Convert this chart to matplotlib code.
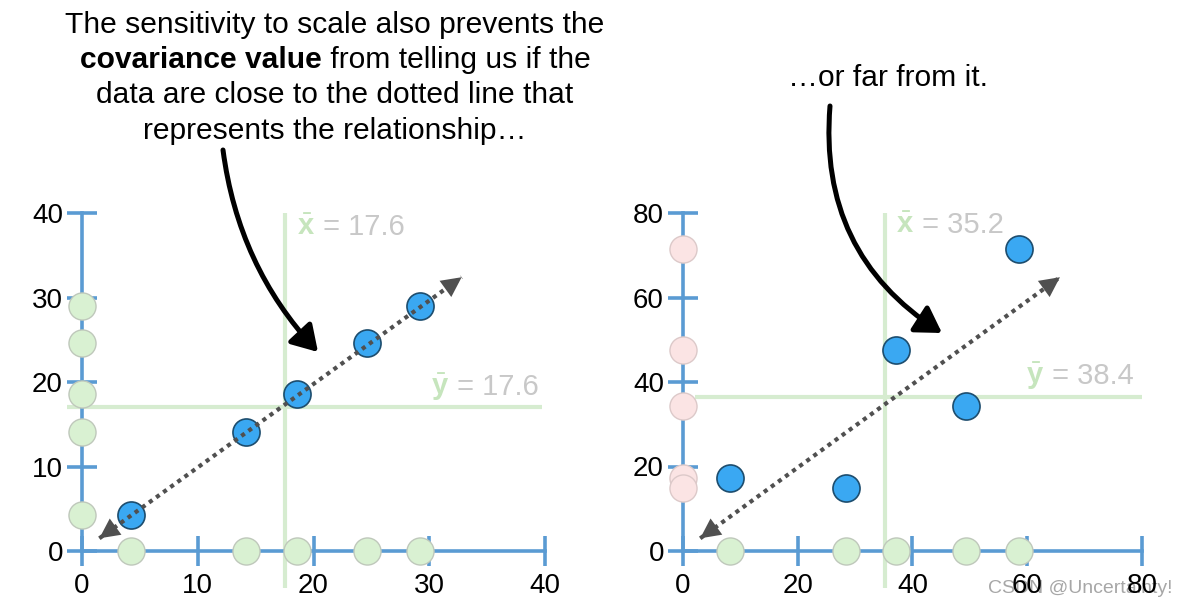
import matplotlib
matplotlib.use('Agg')
import matplotlib.pyplot as plt
from matplotlib.patches import FancyArrowPatch

plt.rcParams['font.family'] = ['Liberation Sans', 'DejaVu Sans']
plt.rcParams['mathtext.fontset'] = 'custom'
plt.rcParams['mathtext.rm'] = 'Liberation Sans'
plt.rcParams['mathtext.bf'] = 'Liberation Sans:bold'
plt.rcParams['mathtext.it'] = 'Liberation Sans:italic'

# ---------------- data ----------------
left_x = [4.2, 14.2, 18.6, 24.6, 29.2]
left_y = [4.3, 14.1, 18.6, 24.6, 29.0]
left_xbar = 17.5
left_ybar = 17.0
left_xbar_text = "17.6"
left_ybar_text = "17.6"
left_ticks = [0, 10, 20, 30, 40]
left_trend_x = [1.5, 32.8]
left_trend_y = [1.5, 32.4]

right_x = [8.2, 28.4, 37.2, 49.3, 58.6]
right_y = [17.2, 15.0, 47.6, 34.4, 71.4]
right_xbar = 35.2
right_ybar = 36.5
right_xbar_text = "35.2"
right_ybar_text = "38.4"
right_ticks = [0, 20, 40, 60, 80]
right_trend_x = [3.0, 65.7]
right_trend_y = [3.0, 64.8]

header_lines = ["The sensitivity to scale also prevents the",
                ("covariance value", " from telling us if the"),
                "data are close to the dotted line that",
                "represents the relationship\u2026"]
right_header = "\u2026or far from it."
watermark = "CSDN @Uncertainty!"

# ---------------- style ----------------
W, H = 1184, 608
BLUE_AX = '#5a9bd3'
GREEN_LINE = '#d6ecd0'
GREEN_FACE = '#d9f1d2'
GREEN_EDGE = '#bfc8bb'
PINK_FACE = '#fbe4e4'
PINK_EDGE = '#dcc9c9'
BLUE_PT = '#3aa8f2'
BLUE_EDGE = '#1d4d6e'
DOT_GRAY = '#505050'
LABEL_GRAY = '#c8c8c8'
XBAR_GREEN = '#c6e5bd'

fig = plt.figure(figsize=(W / 100, H / 100), dpi=100)
fig.patch.set_facecolor('white')


def px_rect(l, t, r, b):
    return [l / W, 1 - b / H, (r - l) / W, (b - t) / H]


def fpos(x, y):
    return (x / W, 1 - y / H)


def make_panel(rect, xlim, ylim, ticks, xs, ys, side_face, side_edge,
               xbar, ybar, vline_span, hline_span, trend_x, trend_y):
    ax = fig.add_axes(rect)
    ax.set_xlim(*xlim)
    ax.set_ylim(*ylim)
    ax.patch.set_alpha(0)
    for s in ['top', 'right']:
        ax.spines[s].set_visible(False)
    for s in ['left', 'bottom']:
        ax.spines[s].set_position(('data', 0))
        ax.spines[s].set_color(BLUE_AX)
        ax.spines[s].set_linewidth(2.6)
        ax.spines[s].set_bounds(ticks[0], ticks[-1])
    ax.set_xticks(ticks)
    ax.set_yticks(ticks)
    ax.tick_params(direction='inout', length=21.5, width=2.6, color=BLUE_AX,
                   labelsize=20, labelcolor='black')
    ax.tick_params(axis='x', pad=5)
    ax.tick_params(axis='y', pad=3)
    # mean lines
    ax.plot([xbar, xbar], vline_span, color=GREEN_LINE, lw=3, zorder=1,
            clip_on=False, solid_capstyle='butt')
    ax.plot(hline_span, [ybar, ybar], color=GREEN_LINE, lw=3, zorder=1,
            clip_on=False, solid_capstyle='butt')
    # projections
    ms = 380
    ax.scatter(xs, [0] * len(xs), s=ms, facecolor=GREEN_FACE, edgecolor=GREEN_EDGE,
               linewidth=1.0, zorder=4, clip_on=False)
    ax.scatter([0] * len(ys), ys, s=ms, facecolor=side_face, edgecolor=side_edge,
               linewidth=1.0, zorder=4, clip_on=False)
    # data points
    ax.scatter(xs, ys, s=ms, facecolor=BLUE_PT, edgecolor=BLUE_EDGE,
               linewidth=1.2, zorder=5, clip_on=False)
    # dotted trend line with heads at both ends
    ax.plot(trend_x, trend_y, color=DOT_GRAY, lw=3.0, linestyle=(0, (1, 1.1)),
            dash_capstyle='butt', zorder=6, clip_on=False)
    dx = trend_x[1] - trend_x[0]
    dy = trend_y[1] - trend_y[0]
    for (tx, ty, sgn) in [(trend_x[1], trend_y[1], 1), (trend_x[0], trend_y[0], -1)]:
        ax.annotate('', xy=(tx, ty), xytext=(tx - sgn * dx * 0.05, ty - sgn * dy * 0.05),
                    arrowprops=dict(arrowstyle='-|>,head_length=0.9,head_width=0.45',
                                    mutation_scale=16, color=DOT_GRAY, lw=0,
                                    shrinkA=0, shrinkB=0),
                    zorder=7, annotation_clip=False)
    return ax


# left panel: data 0..40 -> px 82..545 ; y 0..40 -> px 551..213
lx = 463 / 40.0
ly = 338 / 40.0
axL = make_panel(px_rect(82 - 5 * lx, 213 - 6 * ly, 545 + 5 * lx, 551 + 6 * ly),
                 (-5, 45), (-6, 46), left_ticks, left_x, left_y,
                 GREEN_FACE, GREEN_EDGE, left_xbar, left_ybar,
                 [-4.4, 40], [-1.3, 39.7], left_trend_x, left_trend_y)

# right panel: data 0..80 -> px 683..1142 ; y 0..80 -> px 551..213
rx = 459 / 80.0
ry = 338 / 80.0
axR = make_panel(px_rect(683 - 6 * rx, 213 - 10 * ry, 1142 + 6 * rx, 551 + 10 * ry),
                 (-6, 86), (-10, 90), right_ticks, right_x, right_y,
                 PINK_FACE, PINK_EDGE, right_xbar, right_ybar,
                 [-8.8, 80], [2.1, 80], right_trend_x, right_trend_y)

fig.canvas.draw()
renderer = fig.canvas.get_renderer()


def text_pieces(x_px, y_px, pieces, size, ha='left', **kw):
    """pieces: list of (text, color, weight); y_px = baseline in pixels."""
    objs = []
    for t, c, w in pieces:
        o = fig.text(0, 0, t, color=c, fontsize=size, fontweight=w, va='baseline',
                     ha='left', **kw)
        objs.append(o)
    widths = [o.get_window_extent(renderer).width for o in objs]
    total = sum(widths)
    start = x_px - total / 2 if ha == 'center' else x_px
    cur = start
    for o, wdt in zip(objs, widths):
        o.set_position(fpos(cur, y_px))
        cur += wdt
    return objs


HS = 21.6
baselines = [33, 68, 103, 139]
for line, yb in zip(header_lines, baselines):
    if isinstance(line, tuple):
        text_pieces(335, yb, [(line[0], 'black', 'bold'), (line[1], 'black', 'normal')], HS, ha='center')
    else:
        text_pieces(335, yb, [(line, 'black', 'normal')], HS, ha='center')

text_pieces(888, 86, [(right_header, 'black', 'normal')], HS, ha='center')

# mean labels
LS = 21
text_pieces(297, 235, [(r'$\bar{\mathbf{x}}$', XBAR_GREEN, 'normal'), (' = ' + left_xbar_text, LABEL_GRAY, 'normal')], LS)
text_pieces(431, 395, [(r'$\bar{\mathbf{y}}$', XBAR_GREEN, 'normal'), (' = ' + left_ybar_text, LABEL_GRAY, 'normal')], LS)
text_pieces(896, 233, [(r'$\bar{\mathbf{x}}$', XBAR_GREEN, 'normal'), (' = ' + right_xbar_text, LABEL_GRAY, 'normal')], LS)
text_pieces(1026, 384, [(r'$\bar{\mathbf{y}}$', XBAR_GREEN, 'normal'), (' = ' + right_ybar_text, LABEL_GRAY, 'normal')], LS)

# curved black arrows
for (sx, sy, ex, ey, rad) in [(223, 150, 318, 352, 0.16), (830, 106, 942, 333, 0.30)]:
    arr = FancyArrowPatch(fpos(sx, sy), fpos(ex, ey), transform=fig.transFigure,
                          connectionstyle=f'arc3,rad={rad}',
                          arrowstyle='-|>,head_length=0.9,head_width=0.55',
                          mutation_scale=17, lw=3.6, color='black',
                          shrinkA=0, shrinkB=0, zorder=10)
    fig.add_artist(arr)

# watermark (sits behind the axis labels, as in the source image)
fig.text(1080 / W, 1 - 593 / H, watermark, fontsize=14, color='#8a8a8a',
         alpha=0.75, ha='center', va='baseline', zorder=-1)

fig.savefig('out.png', dpi=100, facecolor='white')
